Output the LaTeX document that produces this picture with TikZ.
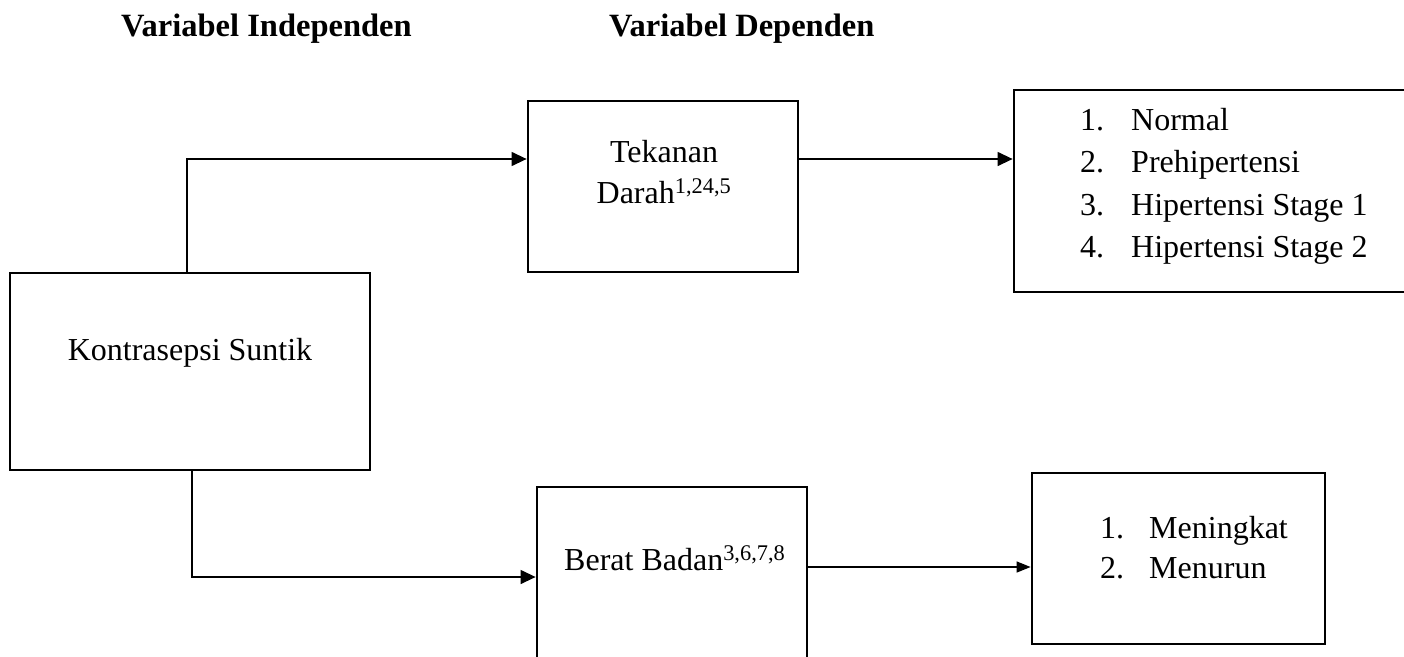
\documentclass[tikz,border=0pt]{standalone}
\usepackage{fontspec}
\setmainfont{Liberation Serif}
\usetikzlibrary{arrows.meta}

\tikzset{
  box/.style={draw=black, line width=2.8pt, rectangle, inner sep=0pt},
  conn/.style={draw=black, line width=1.3pt},
  arr/.style={conn, -{Triangle[length=15pt,width=14pt]}},
  arrsmall/.style={conn, -{Triangle[length=14pt,width=11pt]}},
  txt/.style={inner sep=0pt, font=\fontsize{32}{38}\selectfont},
  head/.style={txt, font=\fontsize{32.5}{38}\selectfont\bfseries},
}

\begin{document}
\begin{tikzpicture}[x=1pt, y=-1pt]
  \useasboundingbox (0,0) rectangle (1404,656);
  \clip (0,0) rectangle (1404,656);

  % column headings
  \node[head, anchor=base west] (hind) at (121,36) {Variabel Independen};
  \node[head, anchor=base west] (hdep) at (609,36) {Variabel Dependen};

  % boxes
  \node[box, minimum width=360pt, minimum height=197pt] (ks) at (190,371.5) {};
  \node[box, minimum width=270pt, minimum height=171pt] (td) at (663,186.5) {};
  \node[box, minimum width=396pt, minimum height=202pt] (hl) at (1212,191) {};
  \node[box, minimum width=270pt, minimum height=175pt] (bb) at (672,574.5) {};
  \node[box, minimum width=293pt, minimum height=171pt] (ml) at (1178.5,558.5) {};

  % box texts
  \node[txt, anchor=base] (ksT) at (190,360) {Kontrasepsi Suntik};
  \node[txt, anchor=base] (tdT1) at (664,162) {Tekanan};
  \node[txt, anchor=base] (tdT2) at (664,203) {Darah\textsuperscript{1,24,5}};
  \node[txt, anchor=base west] (bbT) at (564,570) {Berat Badan\textsuperscript{3,6,7,8}};

  % blood pressure categories
  \foreach \i/\yy/\t in {1/130/Normal, 2/172/Prehipertensi, 3/215/Hipertensi Stage 1, 4/257/Hipertensi Stage 2}{
    \node[txt, anchor=base west] (hlN\i) at (1080,\yy) {\i.};
    \node[txt, anchor=base west] (hlT\i) at (1131,\yy) {\t};
  }

  % weight categories
  \foreach \i/\yy/\t in {1/538/Meningkat, 2/578/Menurun}{
    \node[txt, anchor=base west] (mlN\i) at (1100,\yy) {\i.};
    \node[txt, anchor=base west] (mlT\i) at (1149,\yy) {\t};
  }

  % connector bend points
  \coordinate (up) at (187,159);
  \coordinate (down) at (192,577);
  \coordinate (low) at (0,567);

  % connectors
  \draw[arr] (ks.north -| up) |- (td.west |- up);
  \draw[arr] (td.east |- up) -- (hl.west |- up);
  \draw[arr] (ks.south -| down) |- (bb.west |- down);
  \draw[arrsmall] (bb.east |- low) -- (ml.west |- low);
\end{tikzpicture}
\end{document}
